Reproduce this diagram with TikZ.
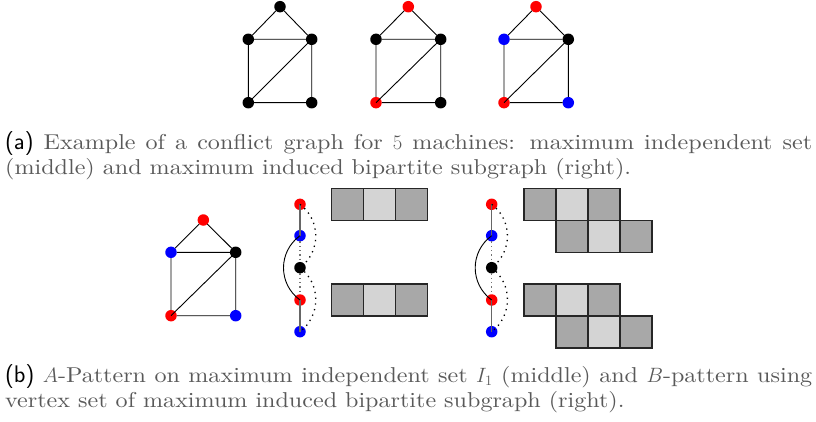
\documentclass[tikz,border=0pt]{standalone}
\usepackage{fontspec}
\usepackage{xcolor}
\newfontfamily\capfont{lmroman10-regular.otf}[FakeStretch = 1.12]

\begin{document}
\begin{tikzpicture}[
  x = 1pt,
  y = -1pt,
  vtx/.style = {
    shape = circle,
    fill = black,
    minimum size = 11.5pt,
    inner sep = 0pt,
    outer sep = 0pt,
  },
  cell/.style = {
    shape = rectangle,
    draw = black!85,
    line width = 1.1pt,
    fill = black!34,
    minimum size = 32pt,
    inner sep = 0pt,
  },
  light/.style = {
    fill = black!17
  },
  conflict/.style = {
    line width = 0.9pt
  },
  chain/.style = {
    line width = 1.4pt,
    color = black!60
  },
  gap/.style = {
    line width = 1.3pt,
    color = black!55,
    dash pattern = on 1.3pt off 3pt
  },
  skip/.style = {
    line width = 1.3pt,
    dash pattern = on 1.3pt off 4.5pt
  },
  caption/.style = {
    anchor = north west,
    inner sep = 0pt,
    text width = 807pt,
    align = justify,
    text = black!65,
    font = \capfont\fontsize{21.5}{25}\selectfont
  }
]
  \useasboundingbox (0, 0) rectangle (816, 422);

  % conflict graph, plain
  \node[vtx] (a1) at (280, 6.7) {};
  \node[vtx] (a2) at (248.3, 39.3) {};
  \node[vtx] (a3) at (311.7, 39.3) {};
  \node[vtx] (a4) at (248.3, 102.7) {};
  \node[vtx] (a5) at (311.7, 102.7) {};

  \draw[conflict] (a2) -- (a1) -- (a3) -- (a2) -- (a4) -- (a5) -- (a3);
  \draw[conflict] (a3.center) -- (a4.center);

  % independent set
  \node[vtx, fill = red] (b1) at (408.3, 6.7) {};
  \node[vtx] (b2) at (376, 39.3) {};
  \node[vtx] (b3) at (440.7, 39.3) {};
  \node[vtx, fill = red] (b4) at (376, 102.7) {};
  \node[vtx] (b5) at (440.7, 102.7) {};

  \draw[conflict] (b2) -- (b1) -- (b3) -- (b2) -- (b4) -- (b5) -- (b3);
  \draw[conflict] (b3.center) -- (b4.center);

  % induced bipartite subgraph
  \node[vtx, fill = red] (c1) at (536, 6.7) {};
  \node[vtx, fill = blue] (c2) at (504, 39.3) {};
  \node[vtx] (c3) at (568.3, 39.3) {};
  \node[vtx, fill = red] (c4) at (504, 102.7) {};
  \node[vtx, fill = blue] (c5) at (568.3, 102.7) {};

  \draw[conflict] (c2) -- (c1) -- (c3) -- (c2) -- (c4) -- (c5) -- (c3);
  \draw[conflict] (c3.center) -- (c4.center);

  \node[caption] (capa) at (5, 131.5) {{\sffamily\fontsize{24}{25}\selectfont\color{black}(a)} Example of a conflict graph for $5$ machines: maximum independent set\linebreak (middle) and maximum induced bipartite subgraph (right).};

  % lower graph
  \node[vtx, fill = red] (d1) at (203.3, 220) {};
  \node[vtx, fill = blue] (d2) at (171, 252.3) {};
  \node[vtx] (d3) at (235.7, 252.3) {};
  \node[vtx, fill = red] (d4) at (171, 315.7) {};
  \node[vtx, fill = blue] (d5) at (235.7, 315.7) {};

  \draw[conflict] (d2) -- (d1) -- (d3) -- (d2) -- (d4) -- (d5) -- (d3);
  \draw[conflict] (d3.center) -- (d4.center);

  % A-pattern
  \node[vtx, fill = red] (p1) at (300, 204.3) {};
  \node[vtx, fill = blue] (p2) at (300, 235.7) {};
  \node[vtx] (p3) at (300, 267.7) {};
  \node[vtx, fill = red] (p4) at (300, 300) {};
  \node[vtx, fill = blue] (p5) at (300, 331.7) {};

  \draw[chain] (p1.center) -- (p2.center);
  \draw[chain] (p4.center) -- (p5.center);
  \draw[gap] (p2) -- (p3) -- (p4);
  \draw[conflict] (p2.center) .. controls +(-22, 16) and +(-22, -16) .. (p4.center);
  \draw[skip] (p1.center) .. controls +(21, 16) and +(21, -16) .. (p3.center);
  \draw[skip] (p3.center) .. controls +(21, 16) and +(21, -16) .. (p5.center);

  \node[cell] (pa1) at (347.7, 204.2) {};
  \node[cell, light] (pa2) at (379.7, 204.2) {};
  \node[cell] (pa3) at (411.7, 204.2) {};
  \node[cell] (pb1) at (347.7, 300) {};
  \node[cell, light] (pb2) at (379.7, 300) {};
  \node[cell] (pb3) at (411.7, 300) {};

  % B-pattern
  \node[vtx, fill = red] (q1) at (491.7, 204.3) {};
  \node[vtx, fill = blue] (q2) at (491.7, 235.7) {};
  \node[vtx] (q3) at (491.7, 267.7) {};
  \node[vtx, fill = red] (q4) at (491.7, 300) {};
  \node[vtx, fill = blue] (q5) at (491.7, 331.7) {};

  \draw[chain] (q1.center) -- (q2.center);
  \draw[chain] (q4.center) -- (q5.center);
  \draw[gap] (q2) -- (q3) -- (q4);
  \draw[conflict] (q2.center) .. controls +(-22, 16) and +(-22, -16) .. (q4.center);
  \draw[skip] (q1.center) .. controls +(21, 16) and +(21, -16) .. (q3.center);
  \draw[skip] (q3.center) .. controls +(21, 16) and +(21, -16) .. (q5.center);

  \node[cell] (qa1) at (540, 204.2) {};
  \node[cell, light] (qa2) at (572, 204.2) {};
  \node[cell] (qa3) at (604, 204.2) {};
  \node[cell] (qb1) at (572, 236.2) {};
  \node[cell, light] (qb2) at (604, 236.2) {};
  \node[cell] (qb3) at (636, 236.2) {};
  \node[cell] (qc1) at (540, 300) {};
  \node[cell, light] (qc2) at (572, 300) {};
  \node[cell] (qc3) at (604, 300) {};
  \node[cell] (qd1) at (572, 332) {};
  \node[cell, light] (qd2) at (604, 332) {};
  \node[cell] (qd3) at (636, 332) {};

  \node[caption] (capb) at (5, 364) {{\sffamily\fontsize{24}{25}\selectfont\color{black}(b)} $A$-Pattern on maximum independent set $I_1$ (middle) and $B$-pattern using\linebreak vertex set of maximum induced bipartite subgraph (right).};
\end{tikzpicture}
\end{document}
